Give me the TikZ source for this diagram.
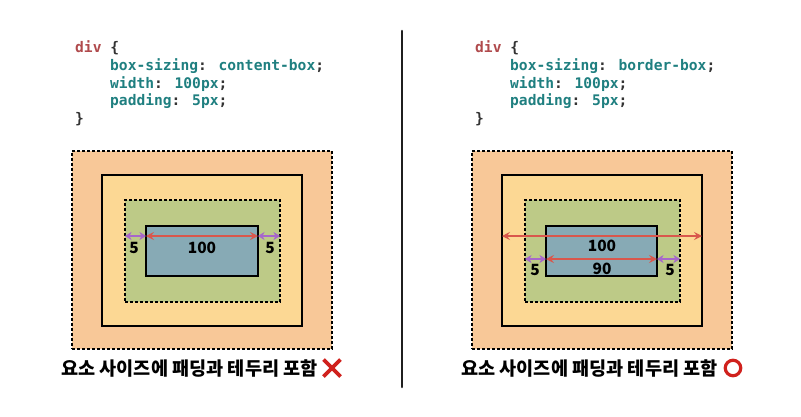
\documentclass[tikz,border=0pt]{standalone}
\usepackage{fontspec}
\usetikzlibrary{arrows.meta,calc}
\newfontfamily\kr{Noto Sans CJK KR}[BoldFont={Noto Sans CJK KR Black}]
\newfontfamily\krb{Noto Sans CJK KR}
\newfontfamily\codefont{DejaVu Sans Mono}
\definecolor{cmargin}{HTML}{F8C898}
\definecolor{cborder}{HTML}{FCD894}
\definecolor{cpad}{HTML}{BDCA87}
\definecolor{ccontent}{HTML}{87AAB5}
\definecolor{cred}{HTML}{D9574C}
\definecolor{cpurple}{HTML}{A767CB}
\definecolor{ckey}{HTML}{1F7F80}
\definecolor{cdiv}{HTML}{B04A4C}
\definecolor{cpunct}{HTML}{333333}
\definecolor{cmark}{HTML}{D0211D}
\tikzset{
  boxbase/.style={inner sep=0pt, outer sep=0pt, line width=1.1pt},
  marginbox/.style={boxbase, draw=black, fill=cmargin, dash pattern=on 3pt off 2pt, minimum width=260pt, minimum height=198pt},
  borderbox/.style={boxbase, draw=black, fill=cborder, minimum width=200pt, minimum height=151pt},
  padbox/.style={boxbase, draw=black, fill=cpad, dash pattern=on 3pt off 2pt, minimum width=155pt, minimum height=102pt},
  contentbox/.style={boxbase, draw=black, fill=ccontent, line width=1.3pt, minimum width=112pt, minimum height=50pt},
  codeline/.style={anchor=west, inner sep=0pt, font=\codefont\bfseries\fontsize{14.6}{16}\selectfont, text=cpunct},
  numlabel/.style={inner sep=0pt, font=\krb\bfseries\fontsize{15.5}{18}\selectfont},
  caption/.style={anchor=west, inner sep=0pt, font=\kr\bfseries\fontsize{18.6}{22}\selectfont},
  redarrow/.style={draw=cred, line width=1.3pt, {Stealth[length=8pt,width=8pt,inset=3pt]}-{Stealth[length=8pt,width=8pt,inset=3pt]}},
  purplearrow/.style={draw=cpurple, line width=1.8pt, {Stealth[length=6.5pt,width=8pt,inset=2pt]}-{Stealth[length=6.5pt,width=8pt,inset=2pt]}},
}
\begin{document}
\begin{tikzpicture}[x=1pt,y=-1pt]
\useasboundingbox (0,0) rectangle (801,416);
% divider
\coordinate (dtop) at (402,31);
\coordinate (dbot) at (402,387);
\draw[line width=2.6pt, black!88, line cap=round] (dtop) -- (dbot);

% ---------- left ----------
\node[codeline] (lc1) at (75,48) {\textcolor{cdiv}{div} \{};
\node[codeline] (lc2) at (110,66) {\textcolor{ckey}{box-sizing}: \textcolor{ckey}{content-box};};
\node[codeline] (lc3) at (110,84) {\textcolor{ckey}{width}: \textcolor{ckey}{100px};};
\node[codeline] (lc4) at (110,101.5) {\textcolor{ckey}{padding}: \textcolor{ckey}{5px};};
\node[codeline] (lc5) at (75,119) {\}};

\node[marginbox] (Lm) at (202,250) {};
\node[borderbox] (Lb) at (202,250.5) {};
\node[padbox] (Lp) at (202.5,251) {};
\node[contentbox] (Lc) at (202,251) {};

\draw[redarrow] (Lc.west |- 0,236) -- (Lc.east |- 0,236);
\draw[purplearrow] (Lp.west |- 0,236) -- (Lc.west |- 0,236);
\draw[purplearrow] (Lc.east |- 0,236) -- (Lp.east |- 0,236);
\node[numlabel] (L100) at (202,248) {100};
\node[numlabel] (L5a) at (134,248) {5};
\node[numlabel] (L5b) at (270,248) {5};

\node[caption] (Lcap) at (61,368) {요소 사이즈에 패딩과 테두리 포함};
\coordinate (Lx) at (332,368);
\draw[cmark, line width=3.6pt] ($(Lx)+(-8.5,-8.5)$) -- ($(Lx)+(8.5,8.5)$);
\draw[cmark, line width=3.6pt] ($(Lx)+(-8.5,8.5)$) -- ($(Lx)+(8.5,-8.5)$);

% ---------- right ----------
\node[codeline] (rc1) at (475,48) {\textcolor{cdiv}{div} \{};
\node[codeline] (rc2) at (510,66) {\textcolor{ckey}{box-sizing}: \textcolor{ckey}{border-box};};
\node[codeline] (rc3) at (510,84) {\textcolor{ckey}{width}: \textcolor{ckey}{100px};};
\node[codeline] (rc4) at (510,101.5) {\textcolor{ckey}{padding}: \textcolor{ckey}{5px};};
\node[codeline] (rc5) at (475,119) {\}};

\node[marginbox] (Rm) at (602,250) {};
\node[borderbox] (Rb) at (602,250.5) {};
\node[padbox] (Rp) at (602.5,251) {};
\node[contentbox, minimum width=111pt] (Rc) at (601.5,251) {};

\draw[redarrow] (Rb.west |- 0,236) -- (Rb.east |- 0,236);
\draw[redarrow] (Rc.west |- 0,259) -- (Rc.east |- 0,259);
\draw[purplearrow] (Rp.west |- 0,259) -- (Rc.west |- 0,259);
\draw[purplearrow] (Rc.east |- 0,259) -- (Rp.east |- 0,259);
\node[numlabel] (R100) at (602,246) {100};
\node[numlabel] (R90) at (602,269) {90};
\node[numlabel] (R5a) at (535,270) {5};
\node[numlabel] (R5b) at (670,270) {5};

\node[caption] (Rcap) at (461,368) {요소 사이즈에 패딩과 테두리 포함};
\node[circle, draw=cmark, line width=3.2pt, minimum size=15.5pt, inner sep=0pt] (Ro) at (733,368) {};
\end{tikzpicture}
\end{document}
